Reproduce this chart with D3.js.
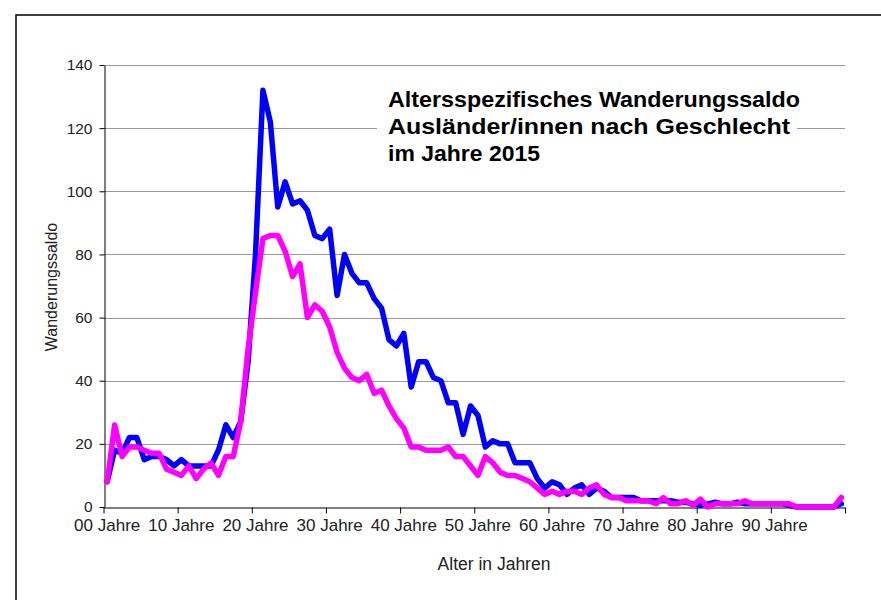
<!DOCTYPE html>
<html><head><meta charset="utf-8">
<script src="https://cdn.jsdelivr.net/npm/d3@7"></script>
<style>body{margin:0;background:#fff} svg{display:block} text{font-family:"Liberation Sans", Arial, sans-serif}</style>
</head><body><svg id="c" width="881" height="600"></svg>
<script>
const ages = d3.range(0, 100);
const maleValues = [8,18,17,22,22,15,16,16,15,13,15,13,13,13,13,18,26,22,27,46,
  80,132,122,95,103,96,97,94,86,85,88,67,80,74,71,71,66,63,53,51,
  55,38,46,46,41,40,33,33,23,32,29,19,21,20,20,14,14,14,9,6,
  8,7,4,6,7,4,6,5,3,3,3,3,2,2,2,2,2,1.5,1.5,1,
  0.5,1,1.5,1,1,1.5,1,1,1,1,1,1,0.5,0,0,0,0,0,0,1];
const femaleValues = [8,26,16,19,19,18,17,17,12,11,10,13,9,12,14,10,16,16,27,50,
  68,85,86,86,81,73,77,60,64,62,57,49,44,41,40,42,36,37,32,28,
  25,19,19,18,18,18,19,16,16,13,10,16,14,11,10,10,9,8,6,4,
  5,4,5,5,4,6,7,4,3,3,2,2,2,2,1,3,1,1,2,0.5,
  2.5,0,1,1,1,1,2,1,1,1,1,1,1,0,0,0,0,0,0,3];
const yTicks = [0, 20, 40, 60, 80, 100, 120, 140];
const xTickCats = [0, 10, 20, 30, 40, 50, 60, 70, 80, 90];
const xTickLabels = ["00 Jahre","10 Jahre","20 Jahre","30 Jahre","40 Jahre","50 Jahre","60 Jahre","70 Jahre","80 Jahre","90 Jahre"];
const titleLines = ["Altersspezifisches Wanderungssaldo","Ausländer/innen nach Geschlecht","im Jahre 2015"];
const titleWidths = [412, 402, 152];
const xAxisTitle = "Alter in Jahren";
const yAxisTitle = "Wanderungssaldo";

const svg = d3.select("#c");
const L = 104, R = 845, T = 65, B = 507;
const xLin = d3.scaleLinear().domain([0, 100]).range([L - 0.5, R]);
const y = d3.scaleLinear().domain([0, 140]).range([B, T]);
const xc = i => xLin(i + 0.5);

// outer frame
svg.append("rect").attr("x", 16).attr("y", 15).attr("width", 900).attr("height", 700)
  .attr("fill", "none").attr("stroke", "#000").attr("stroke-width", 1.5);

// gridlines
svg.append("g").selectAll("line").data(yTicks.filter(v => v > 0)).join("line")
  .attr("x1", L).attr("x2", R).attr("y1", d => Math.round(y(d)) + 0.5).attr("y2", d => Math.round(y(d)) + 0.5)
  .attr("stroke", "#999").attr("stroke-width", 1);

// title box
svg.append("rect").attr("x", 377).attr("y", 82).attr("width", 420).attr("height", 86).attr("fill", "#fff");
svg.append("g").selectAll("text").data(titleLines).join("text")
  .attr("x", 388).attr("y", (d, i) => 107 + i * 27)
  .attr("font-size", 22).attr("font-weight", "bold").attr("fill", "#000")
  .attr("textLength", (d, i) => titleWidths[i]).attr("lengthAdjust", "spacingAndGlyphs")
  .text(d => d);

// y axis
const yAxis = svg.append("g").attr("transform", `translate(${L + 0.5},0)`)
  .call(d3.axisLeft(y).tickValues(yTicks).tickSize(5).tickSizeOuter(0).tickPadding(7));
yAxis.selectAll("text").attr("font-size", 15.5).attr("fill", "#222").attr("font-family", '"Liberation Sans", Arial, sans-serif');
yAxis.selectAll("line,path").attr("stroke", "#000");

// x axis (ticks at category boundaries)
const xAxis = svg.append("g").attr("transform", `translate(0,${B + 0.5})`)
  .call(d3.axisBottom(xLin).tickValues(d3.range(0, 101, 10)).tickSize(6).tickSizeOuter(0).tickFormat(""));
xAxis.selectAll("line,path").attr("stroke", "#000");
svg.append("g").selectAll("text").data(xTickCats).join("text")
  .attr("x", d => xc(d)).attr("y", 531).attr("text-anchor", "middle")
  .attr("font-size", 17).attr("fill", "#222")
  .text((d, i) => xTickLabels[i]);

// axis titles
svg.append("text").attr("x", 494).attr("y", 570).attr("text-anchor", "middle")
  .attr("font-size", 17.5).attr("fill", "#222").text(xAxisTitle);
svg.append("text").attr("transform", "translate(57,287) rotate(-90)").attr("text-anchor", "middle")
  .attr("font-size", 16).attr("fill", "#222").text(yAxisTitle);

// lines
const line = d3.line().x((d, i) => xc(i)).y(d => y(d)).curve(d3.curveLinear);
svg.append("path").datum(maleValues).attr("d", line).attr("fill", "none")
  .attr("stroke", "#0000ff").attr("stroke-width", 5.5).attr("stroke-linejoin", "round").attr("stroke-linecap", "round");
svg.append("path").datum(femaleValues).attr("d", line).attr("fill", "none")
  .attr("stroke", "#ff00ff").attr("stroke-width", 5.5).attr("stroke-linejoin", "round").attr("stroke-linecap", "round");
</script></body></html>
